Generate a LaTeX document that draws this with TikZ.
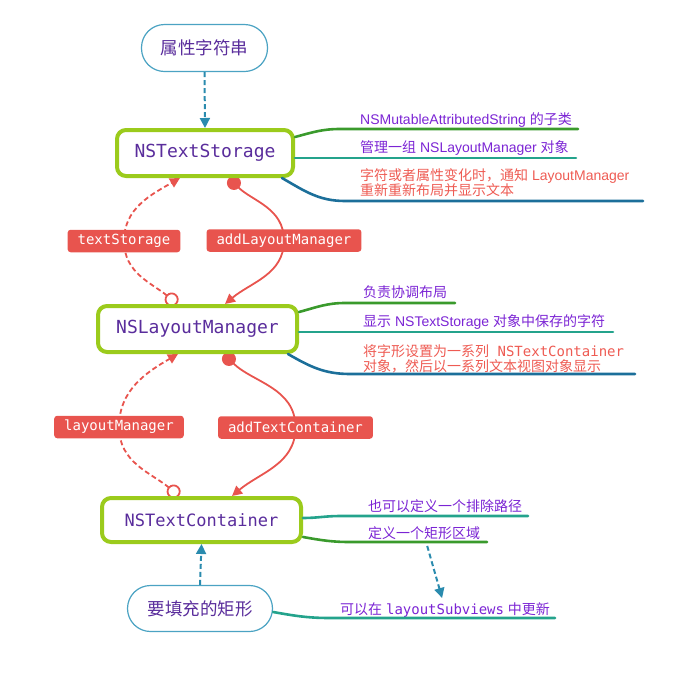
\documentclass[tikz,border=0pt]{standalone}
\usepackage{fontspec}
\setmainfont{Liberation Sans}
\setmonofont{DejaVu Sans Mono}
\newfontfamily\cjk{Noto Sans CJK SC}
\usetikzlibrary{arrows.meta,backgrounds}

\definecolor{boxgreen}{HTML}{9BCB1C}
\definecolor{boxpurple}{HTML}{5A2D9C}
\definecolor{pillblue}{HTML}{4BA3C3}
\definecolor{msgred}{HTML}{E8544E}
\definecolor{notepurple}{HTML}{7B24D4}
\definecolor{notered}{HTML}{EE5B53}
\definecolor{lgreen}{HTML}{3A9A2C}
\definecolor{lteal}{HTML}{24A38C}
\definecolor{lblue}{HTML}{1C6F9A}
\definecolor{feedblue}{HTML}{2A8BAE}

\tikzset{
    classbox/.style={draw=boxgreen, line width=4pt, rounded corners=9pt, fill=white,
        inner sep=0pt, text=boxpurple, font=\ttfamily\fontsize{18}{20}\selectfont},
    pill/.style={draw=pillblue, line width=1.2pt, rounded corners=23pt, fill=white,
        inner sep=0pt, text=boxpurple, font=\cjk\fontsize{17.5}{20}\selectfont},
    msg/.style={fill=msgred, rounded corners=3pt, text=white, inner xsep=10pt,
        minimum height=22.5pt, font=\ttfamily\fontsize{14}{16}\selectfont},
    note/.style={anchor=base west, inner sep=0pt, text=notepurple, font=\fontsize{14}{15}\selectfont},
    rednote/.style={note, anchor=north west, text=notered, align=left},
    branch/.style={line width=2.6pt, line cap=round},
    link/.style={draw=msgred, line width=1.8pt},
    getter/.style={link, dash pattern=on 5pt off 3pt,
        {Circle[open,fill=white,length=14pt,width=14pt]}-{Triangle[length=10pt,width=10pt]}},
    adder/.style={link, {Circle[length=14pt,width=14pt]}-{Triangle[length=10pt,width=10pt]}},
    feed/.style={draw=feedblue, line width=2pt, dash pattern=on 5pt off 3pt,
        -{Triangle[length=10pt,width=10pt]}}
}

\begin{document}
\begin{tikzpicture}[x=1pt, y=1pt]
    \useasboundingbox (0,0) rectangle (677,-681);

    \node[pill, minimum width=126pt, minimum height=47pt] (AttrString) at (204.5,-48) {属性字符串};
    \node[classbox, minimum width=176pt, minimum height=46pt] (TextStorage) at (205,-153) {NSTextStorage};
    \node[classbox, minimum width=199pt, minimum height=46pt] (LayoutManager) at (197.5,-329) {NSLayoutManager};
    \node[classbox, minimum width=199pt, minimum height=44pt, font=\ttfamily\fontsize{17}{20}\selectfont]
        (TextContainer) at (201.5,-520) {NSTextContainer};
    \node[pill, minimum width=145pt, minimum height=46pt] (FillRect) at (200,-608.5) {要填充的矩形};

    \node[msg] (tsLbl) at (124,-241) {textStorage};
    \node[msg] (addLmLbl) at (284,-240.5) {addLayoutManager};
    \node[msg] (lmLbl) at (119,-427) {layoutManager};
    \node[msg] (addTcLbl) at (295.5,-427.5) {addTextContainer};

    \draw[feed] (AttrString.south) -- (TextStorage.north);
    \draw[feed] (FillRect.north) -- (TextContainer.south);

    \begin{pgfonlayer}{background}
        \draw[getter] ([xshift=-20.5]LayoutManager.north) to[out=140,in=-90] (tsLbl.center)
            to[out=90,in=-150] ([xshift=-25]TextStorage.south);
        \draw[adder] ([xshift=24]TextStorage.south) to[out=-45,in=90] (addLmLbl.center)
            to[out=-90,in=40] ([xshift=27.5]LayoutManager.north);
        \draw[getter] ([xshift=-22.5]TextContainer.north) to[out=140,in=-90] (lmLbl.center)
            to[out=90,in=-150] ([xshift=-19.5]LayoutManager.south);
        \draw[adder] ([xshift=26.5]LayoutManager.south) to[out=-45,in=90] (addTcLbl.center)
            to[out=-90,in=40] ([xshift=30.5]TextContainer.north);
    \end{pgfonlayer}

    \node[note] (tsNote1) at (360,-124) {NSMutableAttributedString {\cjk 的子类}};
    \node[note] (tsNote2) at (360,-152) {{\cjk 管理一组} NSLayoutManager {\cjk 对象}};
    \node[rednote] (tsNote3) at (360,-168.5) {{\cjk 字符或者属性变化时，通知} LayoutManager\\{\cjk 重新重新布局并显示文本}};
    \node[note] (lmNote1) at (363,-297) {{\cjk 负责协调布局}};
    \node[note] (lmNote2) at (363,-326) {{\cjk 显示} NSTextStorage {\cjk 对象中保存的字符}};
    \node[rednote] (lmNote3) at (363,-344) {{\cjk 将字形设置为一系列}\texttt{ NSTextContainer}\\{\cjk 对象，然后以一系列文本视图对象显示}};
    \node[note] (tcNote1) at (368,-511.5) {{\cjk 也可以定义一个排除路径}};
    \node[note] (tcNote2) at (368,-538.5) {{\cjk 定义一个矩形区域}};
    \node[note] (frNote) at (340,-614) {{\cjk 可以在} \texttt{layoutSubviews} {\cjk 中更新}};

    \coordinate (tsK1) at (340,-129);
    \coordinate (tsE2) at (576,-158);
    \coordinate (tsK3) at (345,-201);
    \coordinate (lmK1) at (345,-303);
    \coordinate (lmE2) at (613,-332);
    \coordinate (lmK3) at (350,-374);
    \coordinate (tcK1) at (340,-516);
    \coordinate (tcK2) at (350,-542);
    \coordinate (frK1) at (330,-618);

    \draw[branch, lgreen] ([yshift=16]TextStorage.east) to[out=15,in=180] (tsK1) -- ++(238,0);
    \draw[branch, lteal] ([yshift=-5]TextStorage.east) -- (tsE2);
    \draw[branch, lblue] ([xshift=-13]TextStorage.south east) to[out=-30,in=180] (tsK3) -- ++(298,0);

    \draw[branch, lgreen] ([yshift=17]LayoutManager.east) to[out=15,in=180] (lmK1) -- ++(110,0);
    \draw[branch, lteal] ([yshift=-3]LayoutManager.east) -- (lmE2);
    \draw[branch, lblue] ([xshift=-11]LayoutManager.south east) to[out=-30,in=180] (lmK3) -- ++(285,0);

    \draw[branch, lteal] ([yshift=2]TextContainer.east) to[out=0,in=180] (tcK1) -- ++(188,0);
    \draw[branch, lgreen] ([yshift=-17]TextContainer.east) to[out=-10,in=180] (tcK2) -- ++(137,0);
    \draw[branch, lteal] ([yshift=-3.5]FillRect.east) to[out=-10,in=180] (frK1) -- ++(225,0);

    \draw[feed] ([xshift=3,yshift=-6]tcNote2.south) -- ([xshift=-3,yshift=4]frNote.north);
\end{tikzpicture}
\end{document}
